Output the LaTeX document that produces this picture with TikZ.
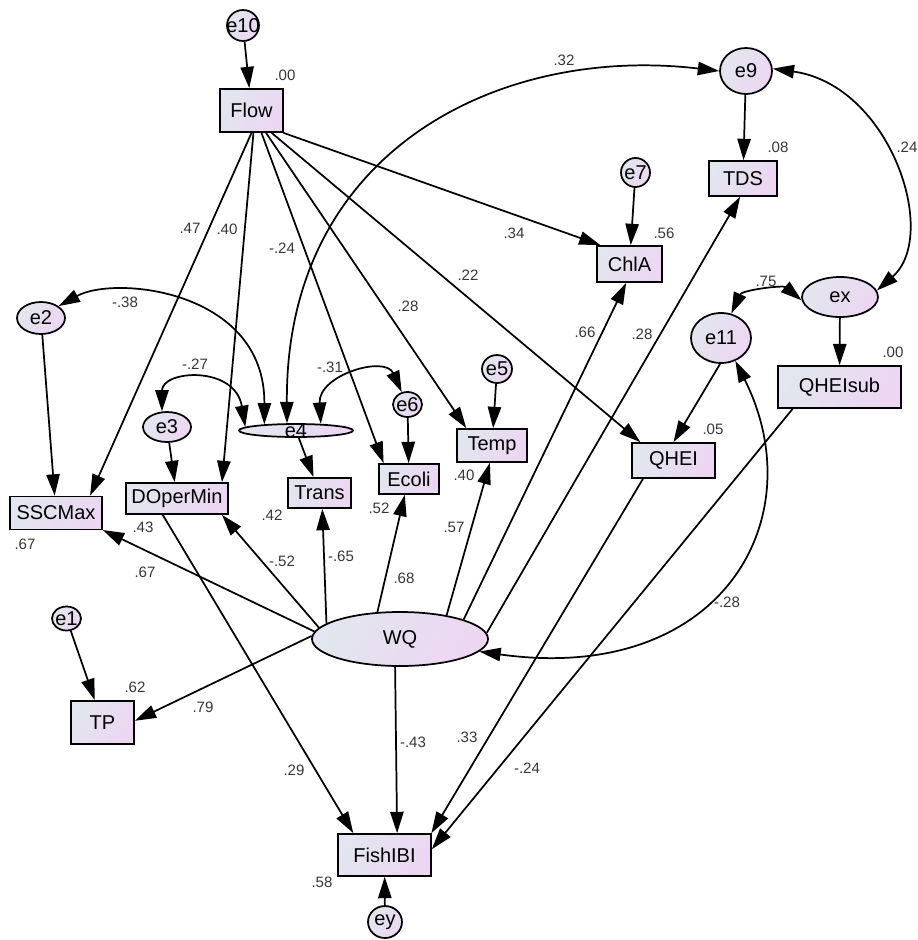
\documentclass[tikz,border=0pt]{standalone}
\usepackage{fontspec}
\setmainfont{Liberation Sans}
\usetikzlibrary{shapes.geometric,arrows.meta}

\definecolor{boxL}{RGB}{226,230,238}
\definecolor{boxR}{RGB}{236,214,242}
\definecolor{valC}{RGB}{55,55,55}
\newlength{\unitpx}
\setlength{\unitpx}{0.75pt}
\newcommand{\varfont}{\fontsize{15}{17}\selectfont}
\newcommand{\estfont}{\fontsize{11.3}{13}\selectfont}

\tikzset{
  obs/.style={rectangle, draw, line width=1.3pt, left color=boxL, right color=boxR,
    shading angle=60, inner sep=0pt, font=\varfont},
  lat/.style={ellipse, draw, line width=1.3pt, left color=boxL, right color=boxR,
    shading angle=60, inner sep=0pt},
  every label/.style={font=\varfont, inner sep=0pt},
  est/.style={font=\estfont, text=valC, inner sep=0pt},
  reg/.style={-{Triangle[length=16pt,width=10pt]}, line width=1.3pt},
  cov/.style={{Triangle[length=16pt,width=10pt]}-{Triangle[length=16pt,width=10pt]}, line width=1.3pt}
}

\begin{document}
\begin{tikzpicture}[x=0.75pt, y=-0.75pt]
  \useasboundingbox (0,0) rectangle (918,940);

  % observed variables
  \node[obs, minimum width=63\unitpx, minimum height=43\unitpx] (Flow) at (251.5,110.5) {Flow};
  \node[obs, minimum width=92\unitpx, minimum height=33\unitpx] (SSCMax) at (56,513) {SSCMax};
  \node[obs, minimum width=102\unitpx, minimum height=31\unitpx] (DOperMin) at (177,498.5) {DOperMin};
  \node[obs, minimum width=63\unitpx, minimum height=30\unitpx] (Trans) at (319.5,493) {Trans};
  \node[obs, minimum width=60\unitpx, minimum height=30\unitpx] (Ecoli) at (409,479) {Ecoli};
  \node[obs, minimum width=70\unitpx, minimum height=33\unitpx] (Temp) at (492,445.5) {Temp};
  \node[obs, minimum width=65\unitpx, minimum height=36\unitpx] (ChlA) at (629.5,264) {ChlA};
  \node[obs, minimum width=68\unitpx, minimum height=35\unitpx] (TDS) at (743,178.5) {TDS};
  \node[obs, minimum width=83\unitpx, minimum height=35\unitpx] (QHEI) at (673.5,460.5) {QHEI};
  \node[obs, minimum width=123\unitpx, minimum height=42\unitpx] (QHEIsub) at (839.5,387) {QHEIsub};
  \node[obs, minimum width=63\unitpx, minimum height=43\unitpx] (TP) at (102.5,722.5) {TP};
  \node[obs, minimum width=93\unitpx, minimum height=42\unitpx] (FishIBI) at (384.5,855) {FishIBI};

  % latent variables and error terms
  \node[lat, minimum width=176\unitpx, minimum height=54\unitpx, label=center:WQ] (WQ) at (400,639) {};
  \node[lat, minimum width=32\unitpx, minimum height=31\unitpx, label=center:e10] (e10) at (243,25.5) {};
  \node[lat, minimum width=52\unitpx, minimum height=46\unitpx, label=center:e9] (e9) at (746,71) {};
  \node[lat, minimum width=29\unitpx, minimum height=29\unitpx, label=center:e7] (e7) at (635.5,172.5) {};
  \node[lat, minimum width=48\unitpx, minimum height=32\unitpx, label=center:e2] (e2) at (41,318) {};
  \node[lat, minimum width=48\unitpx, minimum height=30\unitpx, label=center:e3] (e3) at (167,427) {};
  \node[lat, minimum width=114\unitpx, minimum height=13\unitpx, label=center:e4] (e4) at (296,430.5) {};
  \node[lat, minimum width=29\unitpx, minimum height=25\unitpx, label=center:e6] (e6) at (407.5,404.5) {};
  \node[lat, minimum width=30\unitpx, minimum height=28\unitpx, label=center:e5] (e5) at (497,369) {};
  \node[lat, minimum width=60\unitpx, minimum height=50\unitpx, label=center:e11] (e11) at (721,338) {};
  \node[lat, minimum width=76\unitpx, minimum height=40\unitpx, label=center:ex] (ex) at (840,297) {};
  \node[lat, minimum width=29\unitpx, minimum height=24\unitpx, label=center:e1] (e1) at (66.5,618.5) {};
  \node[lat, minimum width=34\unitpx, minimum height=32\unitpx, label=center:ey] (ey) at (385,922) {};

  % paths out of Flow
  \draw[reg] (e10) -- (Flow);
  \draw[reg] (Flow.south) -- (SSCMax.27);
  \draw[reg] (Flow.-85) -- (DOperMin.20);
  \draw[reg] (Flow.-66) -- (Ecoli.148);
  \draw[reg] (Flow.-57) -- (Temp.146);
  \draw[reg] (Flow.-48) -- (QHEI.151);
  \draw[reg] (Flow.-35) -- (ChlA.147);

  % error terms
  \draw[reg] (e7) -- (ChlA);
  \draw[reg] (e9) -- (TDS);
  \draw[reg] (e2) -- (SSCMax);
  \draw[reg] (e3) -- (DOperMin);
  \draw[reg] (e4) -- (Trans);
  \draw[reg] (e6) -- (Ecoli);
  \draw[reg] (e5) -- (Temp);
  \draw[reg] (e11.-92) -- (QHEI.north);
  \draw[reg] (ex) -- (QHEIsub);
  \draw[reg] (e1) -- (TP);
  \draw[reg] (ey) -- (FishIBI);

  % loadings of WQ
  \draw[reg] (WQ.175) -- (SSCMax.-20);
  \draw[reg] (WQ.172) -- (DOperMin.-20);
  \draw[reg] (WQ.168) -- (Trans.-80);
  \draw[reg] (WQ.130) -- (Ecoli.-105);
  \draw[reg] (WQ.27) -- (Temp.-97);
  \draw[reg] (WQ.17) -- (ChlA.-100);
  \draw[reg] (WQ.4) -- (TDS.-99);
  \draw[reg] (WQ.178) -- (TP.3);
  \draw[reg] (WQ.-100) -- (FishIBI.60);

  % paths into FishIBI
  \draw[reg] (DOperMin.-131) -- (FishIBI.145);
  \draw[reg] (QHEI.-149) -- (FishIBI.25);
  \draw[reg] (QHEIsub.-155) -- (FishIBI.7);

  % covariances
  \draw[cov] (e2.34) .. controls (115,275) and (265,290) .. (e4.169);
  \draw[cov] (e3.108) .. controls (162,370) and (235,365) .. (e4.176);
  \draw[cov] (e4.15) .. controls (318,375) and (385,355) .. (e6.115);
  \draw[cov] (e4.141) .. controls (285,150) and (500,45) .. (e9.west);
  \draw[cov] (e9.5) .. controls (890,85) and (940,235) .. (ex.10);
  \draw[cov] (e11.67) .. controls (742,290) and (783,285) .. (ex.185);
  \draw[cov] (WQ.-9) .. controls (720,685) and (815,520) .. (e11.-58);

  % squared multiple correlations
  \node[est] (r2Flow) at (285,75) {.00};
  \node[est] (r2TDS) at (778,147) {.08};
  \node[est] (r2ChlA) at (664,233) {.56};
  \node[est] (r2QHEIsub) at (893,352) {.00};
  \node[est] (r2QHEI) at (713,429) {.05};
  \node[est] (r2Temp) at (464,475) {.40};
  \node[est] (r2Ecoli) at (379,508) {.52};
  \node[est] (r2Trans) at (272,515) {.42};
  \node[est] (r2DO) at (143,527) {.43};
  \node[est] (r2SSC) at (25,544) {.67};
  \node[est] (r2TP) at (135,687) {.62};
  \node[est] (r2Fish) at (322,882) {.58};

  % path coefficients
  \node[est] (bSSC) at (190,228) {.47};
  \node[est] (bDO) at (227,229) {.40};
  \node[est] (bEcoli) at (282,248) {-.24};
  \node[est] (bTemp) at (408,306) {.28};
  \node[est] (bQHEI) at (468,275) {.22};
  \node[est] (bChlA) at (514,233) {.34};
  \node[est] (lSSC) at (145,572) {.67};
  \node[est] (lDO) at (282,561) {-.52};
  \node[est] (lTrans) at (341,556) {-.65};
  \node[est] (lEcoli) at (404,578) {.68};
  \node[est] (lTemp) at (454,527) {.57};
  \node[est] (lChlA) at (585,332) {.66};
  \node[est] (lTDS) at (642,334) {.28};
  \node[est] (lTP) at (203,707) {.79};
  \node[est] (lFish) at (413,742) {-.43};
  \node[est] (bDOFish) at (294,770) {.29};
  \node[est] (bQHEIFish) at (467,737) {.33};
  \node[est] (bSubFish) at (527,768) {-.24};

  % covariance values
  \node[est] (c24) at (125,302) {-.38};
  \node[est] (c34) at (195,364) {-.27};
  \node[est] (c46) at (330,367) {-.31};
  \node[est] (c49) at (564,60) {.32};
  \node[est] (c9x) at (907,147) {.24};
  \node[est] (c11x) at (766,281) {.75};
  \node[est] (cWQ11) at (727,602) {-.28};
\end{tikzpicture}
\end{document}
